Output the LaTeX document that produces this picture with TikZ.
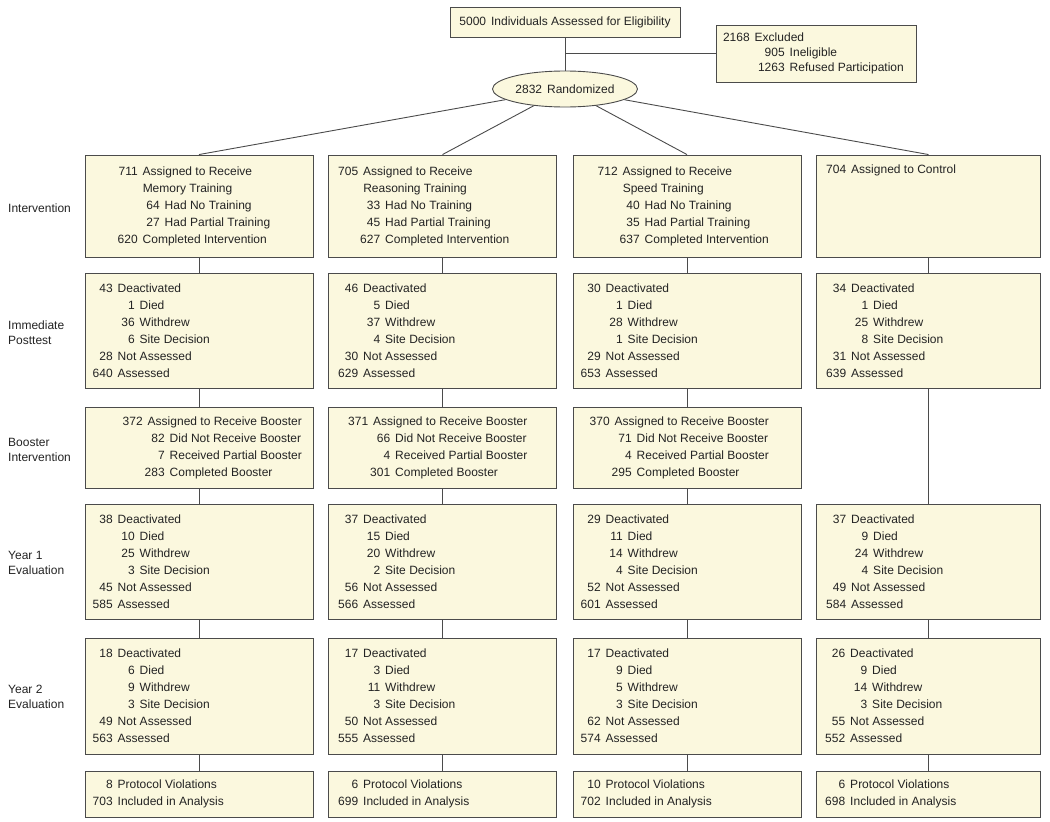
\documentclass[tikz,border=0pt]{standalone}
\usepackage{fontspec}
\setmainfont{Liberation Sans}
\usetikzlibrary{shapes.geometric, positioning}

\definecolor{boxfill}{RGB}{251,248,222}
\definecolor{boxline}{RGB}{75,75,75}
\definecolor{inktext}{RGB}{35,35,35}

\newlength{\numw}\setlength{\numw}{20pt}
\newcommand{\mainln}[2]{\makebox[\numw][r]{#1}\hspace{5pt}#2}
\newcommand{\subln}[2]{\hspace*{\numw}\hspace*{5pt}\makebox[17pt][r]{#1}\hspace{5pt}#2}
\newcommand{\contln}[1]{\hspace*{\numw}\hspace*{5pt}#1}

\begin{document}
\begin{tikzpicture}[x=1pt, y=-1pt,
    box/.style = {draw=boxline, fill=boxfill, line width=0.9pt, inner sep=0pt, minimum width=228pt, text=inktext, font=\fontsize{12}{17}\selectfont},
    txt/.style = {align=left, inner sep=0pt, text=inktext, font=\fontsize{12}{17}\selectfont},
    side/.style = {anchor=west, align=left, inner sep=0pt, text=inktext, font=\fontsize{12}{15}\selectfont},
    link/.style = {draw=boxline, line width=0.9pt}]
    \useasboundingbox (0,0) rectangle (1050,822);

    % top of the chart
    \node[box, minimum width=230pt, minimum height=30pt] (head) at (565,22) {5000\hspace{5pt}Individuals Assessed for Eligibility};
    \node[box, ellipse, minimum width=145pt, minimum height=36pt] (rand) at (565,89) {2832\hspace{5pt}Randomized};
    \node[box, minimum width=200pt, minimum height=57pt] (excl) at (816,53.5) {};
    \node[txt, font=\fontsize{12}{15}\selectfont, right=7pt of excl.west] (exclt) {\makebox[27pt][r]{2168}\hspace{5pt}Excluded\\
        \hspace*{32pt}\makebox[30pt][r]{905}\hspace{5pt}Ineligible\\
        \hspace*{32pt}\makebox[30pt][r]{1263}\hspace{5pt}Refused Participation};
    \coordinate (split) at (565,53.5);

    % row labels
    \node[side] (lab1) at (8,208) {Intervention};
    \node[side] (lab2) at (8,333) {Immediate\\Posttest};
    \node[side] (lab3) at (8,450) {Booster\\Intervention};
    \node[side] (lab4) at (8,563) {Year 1\\Evaluation};
    \node[side] (lab5) at (8,697) {Year 2\\Evaluation};

    % intervention
    \node[box, minimum height=102pt] (int1) at (199,206) {};
    \node[box, minimum height=102pt] (int2) at (442.5,206) {};
    \node[box, minimum height=102pt] (int3) at (687,206) {};
    \node[box, minimum height=102pt, minimum width=224pt] (int4) at (928.5,206) {};
    \node[txt, right=33pt of int1.west] (int1t) {\mainln{711}{Assigned to Receive}\\ \contln{Memory Training}\\
        \subln{64}{Had No Training}\\ \subln{27}{Had Partial Training}\\ \mainln{620}{Completed Intervention}};
    \node[txt, right=10pt of int2.west] (int2t) {\mainln{705}{Assigned to Receive}\\ \contln{Reasoning Training}\\
        \subln{33}{Had No Training}\\ \subln{45}{Had Partial Training}\\ \subln{627}{Completed Intervention}};
    \node[txt, right=25pt of int3.west] (int3t) {\mainln{712}{Assigned to Receive}\\ \contln{Speed Training}\\
        \subln{40}{Had No Training}\\ \subln{35}{Had Partial Training}\\ \subln{637}{Completed Intervention}};
    \node[txt, right=10pt of int4.west] (int4t) {\mainln{704}{Assigned to Control}\\ \strut\\ \strut\\ \strut\\ \strut};

    % immediate posttest
    \node[box, minimum height=115pt] (post1) at (199,330.5) {};
    \node[box, minimum height=115pt] (post2) at (442.5,330.5) {};
    \node[box, minimum height=115pt] (post3) at (687,330.5) {};
    \node[box, minimum height=115pt, minimum width=224pt] (post4) at (928.5,330.5) {};
    \node[txt, right=8pt of post1.west] (post1t) {\mainln{43}{Deactivated}\\ \subln{1}{Died}\\ \subln{36}{Withdrew}\\
        \subln{6}{Site Decision}\\ \mainln{28}{Not Assessed}\\ \mainln{640}{Assessed}};
    \node[txt, right=10pt of post2.west] (post2t) {\mainln{46}{Deactivated}\\ \subln{5}{Died}\\ \subln{37}{Withdrew}\\
        \subln{4}{Site Decision}\\ \mainln{30}{Not Assessed}\\ \mainln{629}{Assessed}};
    \node[txt, right=8pt of post3.west] (post3t) {\mainln{30}{Deactivated}\\ \subln{1}{Died}\\ \subln{28}{Withdrew}\\
        \subln{1}{Site Decision}\\ \mainln{29}{Not Assessed}\\ \mainln{653}{Assessed}};
    \node[txt, right=10pt of post4.west] (post4t) {\mainln{34}{Deactivated}\\ \subln{1}{Died}\\ \subln{25}{Withdrew}\\
        \subln{8}{Site Decision}\\ \mainln{31}{Not Assessed}\\ \mainln{639}{Assessed}};

    % booster
    \node[box, minimum height=81pt] (boost1) at (199,447.5) {};
    \node[box, minimum height=81pt] (boost2) at (442.5,447.5) {};
    \node[box, minimum height=81pt] (boost3) at (687,447.5) {};
    \node[txt, right=38pt of boost1.west] (boost1t) {\mainln{372}{Assigned to Receive Booster}\\ \subln{82}{Did Not Receive Booster}\\
        \subln{7}{Received Partial Booster}\\ \subln{283}{Completed Booster}};
    \node[txt, right=20pt of boost2.west] (boost2t) {\mainln{371}{Assigned to Receive Booster}\\ \subln{66}{Did Not Receive Booster}\\
        \subln{4}{Received Partial Booster}\\ \subln{301}{Completed Booster}};
    \node[txt, right=17pt of boost3.west] (boost3t) {\mainln{370}{Assigned to Receive Booster}\\ \subln{71}{Did Not Receive Booster}\\
        \subln{4}{Received Partial Booster}\\ \subln{295}{Completed Booster}};

    % year 1
    \node[box, minimum height=115pt] (yone1) at (199,561.5) {};
    \node[box, minimum height=115pt] (yone2) at (442.5,561.5) {};
    \node[box, minimum height=115pt] (yone3) at (687,561.5) {};
    \node[box, minimum height=115pt, minimum width=224pt] (yone4) at (928.5,561.5) {};
    \node[txt, right=8pt of yone1.west] (yone1t) {\mainln{38}{Deactivated}\\ \subln{10}{Died}\\ \subln{25}{Withdrew}\\
        \subln{3}{Site Decision}\\ \mainln{45}{Not Assessed}\\ \mainln{585}{Assessed}};
    \node[txt, right=10pt of yone2.west] (yone2t) {\mainln{37}{Deactivated}\\ \subln{15}{Died}\\ \subln{20}{Withdrew}\\
        \subln{2}{Site Decision}\\ \mainln{56}{Not Assessed}\\ \mainln{566}{Assessed}};
    \node[txt, right=8pt of yone3.west] (yone3t) {\mainln{29}{Deactivated}\\ \subln{11}{Died}\\ \subln{14}{Withdrew}\\
        \subln{4}{Site Decision}\\ \mainln{52}{Not Assessed}\\ \mainln{601}{Assessed}};
    \node[txt, right=10pt of yone4.west] (yone4t) {\mainln{37}{Deactivated}\\ \subln{9}{Died}\\ \subln{24}{Withdrew}\\
        \subln{4}{Site Decision}\\ \mainln{49}{Not Assessed}\\ \mainln{584}{Assessed}};

    % year 2
    \node[box, minimum height=116pt] (ytwo1) at (199,696) {};
    \node[box, minimum height=116pt] (ytwo2) at (442.5,696) {};
    \node[box, minimum height=116pt] (ytwo3) at (687,696) {};
    \node[box, minimum height=116pt, minimum width=224pt] (ytwo4) at (928.5,696) {};
    \node[txt, right=8pt of ytwo1.west] (ytwo1t) {\mainln{18}{Deactivated}\\ \subln{6}{Died}\\ \subln{9}{Withdrew}\\
        \subln{3}{Site Decision}\\ \mainln{49}{Not Assessed}\\ \mainln{563}{Assessed}};
    \node[txt, right=10pt of ytwo2.west] (ytwo2t) {\mainln{17}{Deactivated}\\ \subln{3}{Died}\\ \subln{11}{Withdrew}\\
        \subln{3}{Site Decision}\\ \mainln{50}{Not Assessed}\\ \mainln{555}{Assessed}};
    \node[txt, right=8pt of ytwo3.west] (ytwo3t) {\mainln{17}{Deactivated}\\ \subln{9}{Died}\\ \subln{5}{Withdrew}\\
        \subln{3}{Site Decision}\\ \mainln{62}{Not Assessed}\\ \mainln{574}{Assessed}};
    \node[txt, right=9pt of ytwo4.west] (ytwo4t) {\mainln{26}{Deactivated}\\ \subln{9}{Died}\\ \subln{14}{Withdrew}\\
        \subln{3}{Site Decision}\\ \mainln{55}{Not Assessed}\\ \mainln{552}{Assessed}};

    % analysis
    \node[box, minimum height=46pt] (anl1) at (199,794) {};
    \node[box, minimum height=46pt] (anl2) at (442.5,794) {};
    \node[box, minimum height=46pt] (anl3) at (687,794) {};
    \node[box, minimum height=46pt, minimum width=224pt] (anl4) at (928.5,794) {};
    \node[txt, right=8pt of anl1.west] (anl1t) {\mainln{8}{Protocol Violations}\\ \mainln{703}{Included in Analysis}};
    \node[txt, right=10pt of anl2.west] (anl2t) {\mainln{6}{Protocol Violations}\\ \mainln{699}{Included in Analysis}};
    \node[txt, right=8pt of anl3.west] (anl3t) {\mainln{10}{Protocol Violations}\\ \mainln{702}{Included in Analysis}};
    \node[txt, right=9pt of anl4.west] (anl4t) {\mainln{6}{Protocol Violations}\\ \mainln{698}{Included in Analysis}};

    % connectors
    \draw[link] (head) -- (rand);
    \draw[link] (split) -- (excl);
    \draw[link] (rand) -- (int1.north);
    \draw[link] (rand) -- (int2.north);
    \draw[link] (rand) -- (int3.north);
    \draw[link] (rand) -- (int4.north);

    \draw[link] (int1) -- (post1);
    \draw[link] (post1) -- (boost1);
    \draw[link] (boost1) -- (yone1);
    \draw[link] (yone1) -- (ytwo1);
    \draw[link] (ytwo1) -- (anl1);

    \draw[link] (int2) -- (post2);
    \draw[link] (post2) -- (boost2);
    \draw[link] (boost2) -- (yone2);
    \draw[link] (yone2) -- (ytwo2);
    \draw[link] (ytwo2) -- (anl2);

    \draw[link] (int3) -- (post3);
    \draw[link] (post3) -- (boost3);
    \draw[link] (boost3) -- (yone3);
    \draw[link] (yone3) -- (ytwo3);
    \draw[link] (ytwo3) -- (anl3);

    \draw[link] (int4) -- (post4);
    \draw[link] (post4) -- (yone4);
    \draw[link] (yone4) -- (ytwo4);
    \draw[link] (ytwo4) -- (anl4);
\end{tikzpicture}
\end{document}
